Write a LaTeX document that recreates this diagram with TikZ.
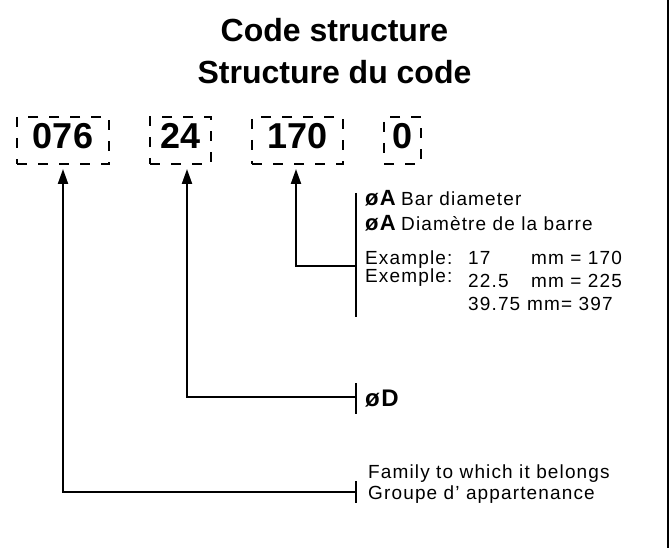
\documentclass[tikz,border=0pt]{standalone}
\usepackage{fontspec}
\setmainfont{Liberation Sans}
\newfontfamily\notefont[LetterSpace=6]{Liberation Sans}
\usetikzlibrary{arrows.meta}

\begin{document}
\begin{tikzpicture}[
  x=1pt, y=-1pt,
  codebox/.style={draw, line width=2pt, dash pattern=on 10pt off 11pt,
    inner sep=0pt, minimum height=47pt, text depth=9pt,
    font=\fontsize{36}{36}\selectfont\bfseries},
  conn/.style={line width=2.2pt, -{Triangle[width=10pt,length=15pt]}},
  bar/.style={line width=2.2pt},
  lbl/.style={anchor=base west, inner sep=0pt, font=\notefont\fontsize{19}{22}\selectfont},
  symb/.style={anchor=base west, inner sep=0pt, font=\notefont\fontsize{22}{24}\selectfont\bfseries},
  title/.style={anchor=base, inner sep=0pt, font=\fontsize{32}{36}\selectfont\bfseries}
]
\useasboundingbox (0,0) rectangle (669,548);

% ------------------------------------------------------------
% Title
% ------------------------------------------------------------
\node[title] (titleEn) at (334.5,42) {Code structure};
\node[title] (titleFr) at (334.5,84) {Structure du code};

% ------------------------------------------------------------
% Code fields
% ------------------------------------------------------------
\node[codebox, minimum width=92pt] (fam) at (63,140.5)  {076};
\node[codebox, minimum width=61pt] (dia) at (180.5,140.5) {24};
\node[codebox, minimum width=91pt] (bar) at (297.5,140.5) {170};
\node[codebox, minimum width=37pt] (ver) at (402.5,140.5) {0};

% ------------------------------------------------------------
% Bar diameter
% ------------------------------------------------------------
\coordinate (barTick) at (356,266);
\draw[bar] ([yshift=73pt]barTick) -- ([yshift=-51pt]barTick);
\draw[conn] (barTick) -| ([xshift=-1.5pt,yshift=-4pt]bar.south);

\node[symb] (symAEn) at (365,206) {øA};
\node[lbl]  (barEn)  at (401,206) {Bar diameter};
\node[symb] (symAFr) at (365,230) {øA};
\node[lbl]  (barFr)  at (401,230) {Diamètre de la barre};

\node[lbl] (exEn)   at (365,264) {Example:};
\node[lbl] (exFr)   at (365,282) {Exemple:};
\node[lbl] (valA)   at (468,264) {17};
\node[lbl] (codeA)  at (531,264) {mm = 170};
\node[lbl] (valB)   at (468,287) {22.5};
\node[lbl] (codeB)  at (531,287) {mm = 225};
\node[lbl] (valC)   at (468,310) {39.75};
\node[lbl] (codeC)  at (527,310) {mm= 397};

% ------------------------------------------------------------
% Diameter D
% ------------------------------------------------------------
\coordinate (diaTick) at (356,397);
\draw[bar] ([yshift=14pt]diaTick) -- ([yshift=-17pt]diaTick);
\draw[conn] (diaTick) -| ([xshift=6.5pt,yshift=-4pt]dia.south);
\node[symb, font=\notefont\fontsize{24}{24}\selectfont\bfseries] (symD) at (365,406) {øD};

% ------------------------------------------------------------
% Family
% ------------------------------------------------------------
\coordinate (famTick) at (356,492);
\draw[bar] ([yshift=11pt]famTick) -- ([yshift=-11pt]famTick);
\draw[conn] (famTick) -| ([yshift=-4pt]fam.south);
\node[lbl] (famEn) at (368,478) {Family to which it belongs};
\node[lbl] (famFr) at (368,499) {Groupe d’ appartenance};

% right frame edge
\draw[line width=2.5pt] (667.75,0) -- (667.75,548);

\end{tikzpicture}
\end{document}
